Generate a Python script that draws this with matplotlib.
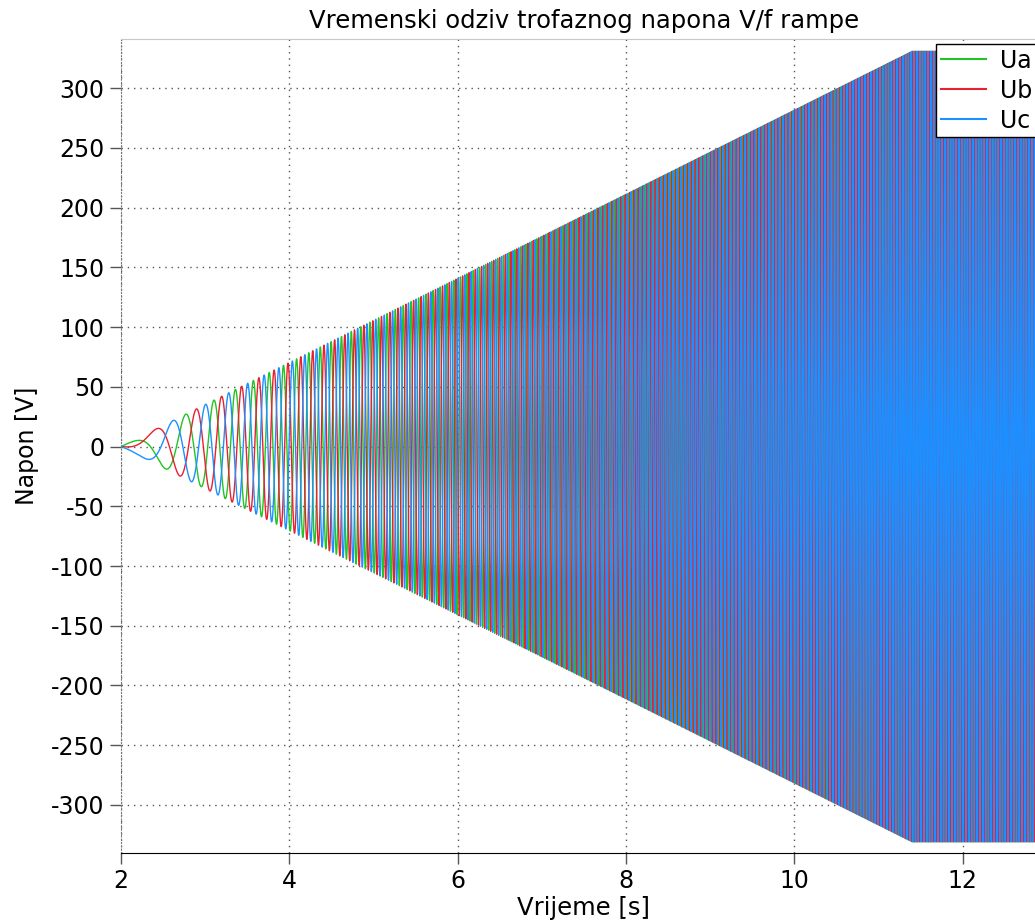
import numpy as np
import matplotlib
matplotlib.use("Agg")
import matplotlib.pyplot as plt

plt.rcParams["axes.unicode_minus"] = False

# ---- chart parameters ----
t_start = 2.0          # s, ramp begins
t_ramp_end = 11.4      # s, V/f ramp reaches nominal point
t_stop = 13.0          # s, end of record
U_peak = 331.0         # V, peak phase voltage after the ramp
f_nominal = 30.0       # Hz, frequency after the ramp
series_names = ["Ua", "Ub", "Uc"]
phase_offsets_deg = [110.0, -10.0, -130.0]
series_colors = ["#22c322", "#e8202f", "#1e8fff"]

x_ticks = [2, 4, 6, 8, 10, 12]
y_ticks = [-300, -250, -200, -150, -100, -50, 0, 50, 100, 150, 200, 250, 300]

title = "Vremenski odziv trofaznog napona V/f rampe"
xlabel = "Vrijeme [s]"
ylabel = "Napon [V]"

# ---- signal ----
t = np.linspace(t_start, t_stop, 40001)
tau = t - t_start
T = t_ramp_end - t_start
r = np.clip(tau / T, 0.0, 1.0)
amp = U_peak * r
theta = np.where(tau < T,
                 np.pi * f_nominal * tau ** 2 / T,
                 np.pi * f_nominal * T + 2 * np.pi * f_nominal * (tau - T))

fig = plt.figure(figsize=(10.35, 9.24), dpi=100)
ax = fig.add_axes([0.1169, 0.0772, 0.8947, 0.8803])

lines = []
for name, ph, col in zip(series_names, phase_offsets_deg, series_colors):
    y = amp * np.sin(theta + np.deg2rad(ph))
    ln, = ax.plot(t, y, color=col, lw=1.0, label=name, zorder=2)
    lines.append(ln)

ax.set_xlim(2, 13)
ax.set_ylim(-340, 341)
ax.set_xticks(x_ticks)
ax.set_yticks(y_ticks)

ax.grid(True, linestyle=(0, (1, 3.5)), color="#555555", linewidth=1.0, zorder=1)
ax.set_axisbelow(True)

ax.spines["right"].set_visible(False)
ax.spines["top"].set_color("#c8c8c8")
ax.spines["left"].set_color("#777777")
ax.spines["left"].set_linestyle((0, (1, 2)))
ax.spines["bottom"].set_color("black")

ax.tick_params(axis="both", direction="out", length=8, width=1, color="#555555",
               labelsize=17, pad=4)

ax.set_title(title, fontsize=17.5, pad=8)
ax.set_xlabel(xlabel, fontsize=17.5, labelpad=2)
ax.set_ylabel(ylabel, fontsize=17)
ax.yaxis.set_label_coords(-0.089, 0.5)

leg = fig.legend(handles=lines, loc="upper left",
                 bbox_to_anchor=(936 / 1035, 1 - 44 / 924),
                 bbox_transform=fig.transFigure,
                 fontsize=17, frameon=True, fancybox=False, framealpha=1,
                 edgecolor="black", borderpad=0.2, labelspacing=0.25,
                 handlelength=1.9, handletextpad=0.6, borderaxespad=0)
leg.get_frame().set_linewidth(1.0)
for h in leg.legend_handles:
    h.set_linewidth(1.5)

fig.savefig("out.png", dpi=100)
